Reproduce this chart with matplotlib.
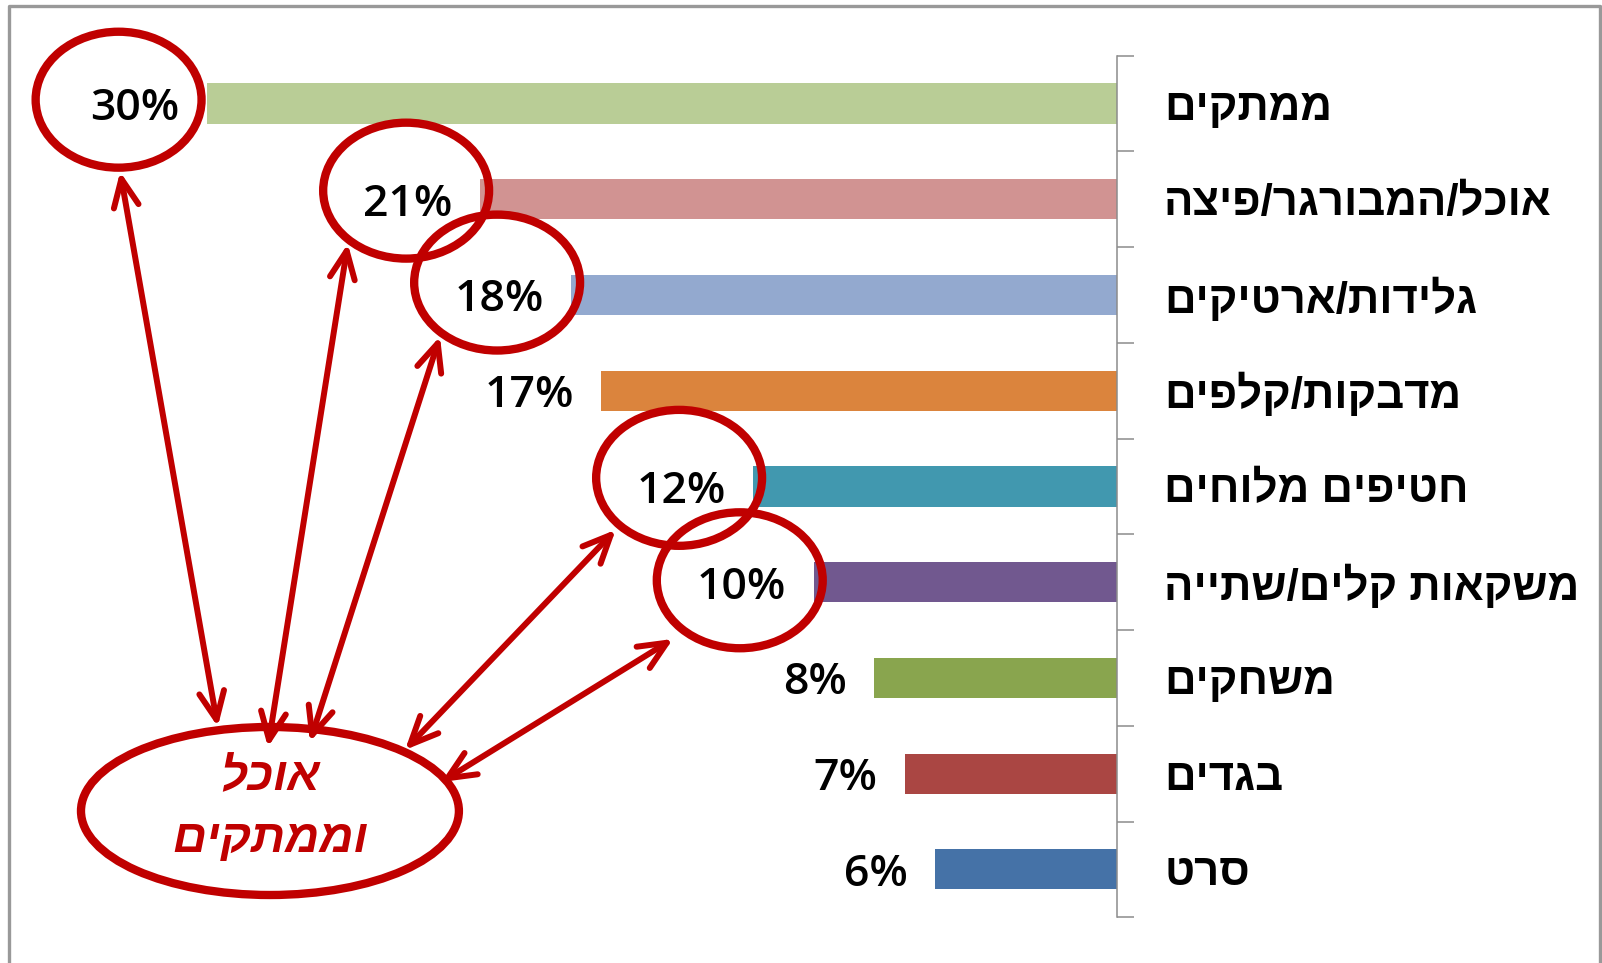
import numpy as np
import matplotlib.pyplot as plt
from matplotlib.patches import Ellipse, FancyArrowPatch
from matplotlib.lines import Line2D

# Data
categories = ['ממתקים', 'אוכל/המבורגר/פיצה', 'גלידות/ארטיקים', 'מדבקות/קלפים',
              'חטיפים מלוחים', 'משקאות קלים/שתייה', 'משחקים', 'בגדים', 'סרט']
shares = [30, 21, 18, 17, 12, 10, 8, 7, 6]
bar_colors = ['#B9CD96', '#D19392', '#93A9CF', '#DB843D', '#4198AF',
              '#71588F', '#89A54E', '#AA4643', '#4572A7']

callout_text = 'אוכל\nוממתקים'
circled = [0, 1, 2, 4, 5]   # rows whose value label is circled

RED = '#C00000'
HEB = ['Liberation Sans', 'DejaVu Sans']
NUM = ['Open Sans', 'DejaVu Sans']


def rtl(s):
    # matplotlib has no bidi support, so flip each line for right-to-left display
    return '\n'.join(line[::-1] for line in s.split('\n'))


def ell_pt(cx, cy, w, h, deg, k=1.0):
    t = np.deg2rad(deg)
    return cx + k * w / 2 * np.cos(t), cy + k * h / 2 * np.sin(t)


fig = plt.figure(figsize=(16.02, 9.63), dpi=100)
ax = fig.add_axes([0.0125, 0.0475, 0.6848, 0.8947])

y = np.arange(len(categories))
ax.barh(y, shares, height=0.42, color=bar_colors, zorder=2)

ax.set_xlim(36.17, 0)
ax.set_ylim(len(categories) - 0.5, -0.5)

# axis on the right, tick marks between categories
ax.yaxis.tick_right()
ax.set_yticks(np.arange(-0.5, len(categories)), labels=[])
ax.set_yticks(y, minor=True)
ax.set_yticklabels([rtl(c) for c in categories], minor=True,
                   fontsize=31.5, fontweight='bold', family=HEB)
ax.tick_params(axis='y', which='major', direction='out', length=12,
               width=1.1, color='#8C8C8C')
ax.tick_params(axis='y', which='minor', length=0, pad=34)
ax.set_xticks([])
for s in ['top', 'left', 'bottom']:
    ax.spines[s].set_visible(False)
ax.spines['right'].set_color('#8C8C8C')
ax.spines['right'].set_linewidth(1.1)
ax.patch.set_alpha(0)

# value labels
for i, v in enumerate(shares):
    ax.text(v + 0.9, i, f'{v}%', ha='right', va='center_baseline',
            fontsize=32, fontweight='semibold', family=NUM, color='black',
            zorder=4)

# hand-drawn callouts
circ_w, circ_h = 5.47, 1.42
nudges = [(0.48, -0.04), (0, -0.09), (0, -0.13), (0, -0.09), (0, -0.02)]
centers = []
for i, (nx, ny) in zip(circled, nudges):
    c = (shares[i] + 2.44 + nx, i + ny)
    centers.append(c)
    ax.add_patch(Ellipse(c, circ_w, circ_h, fill=False, ec=RED, lw=6,
                         clip_on=False, zorder=5))

big_c, big_w, big_h = (27.93, 7.39), 12.46, 1.755
ax.add_patch(Ellipse(big_c, big_w, big_h, fill=False, ec=RED, lw=6,
                     clip_on=False, zorder=5))
ax.text(big_c[0], big_c[1] - 0.02, rtl(callout_text), ha='center', va='center',
        color=RED, fontsize=34, fontstyle='italic', fontweight='bold',
        family=HEB, linespacing=1.55, zorder=6)

tail_ang = [91, 48, 49, 45, 47]
tail_k = [1.06, 1.05, 1.05, 1.08, 1.18]
head_ang = [285.4, 270.8, 255.6, 225.5, 200.8]
head_k = [1.04, 0.76, 0.85, 1.02, 0.97]
for c, ta, tk, ha_, hk in zip(centers, tail_ang, tail_k, head_ang, head_k):
    p0 = ell_pt(c[0], c[1], circ_w, circ_h, ta, tk)
    p1 = ell_pt(big_c[0], big_c[1], big_w, big_h, ha_, hk)
    ax.add_patch(FancyArrowPatch(p0, p1, arrowstyle='<->,head_length=1.0,head_width=0.45',
                                 mutation_scale=20, lw=4.3, color=RED,
                                 shrinkA=0, shrinkB=0, clip_on=False, zorder=5,
                                 joinstyle='round', capstyle='round'))

# picture frame
fig.add_artist(Line2D([9 / 1602, 9 / 1602, 1600 / 1602, 1600 / 1602],
                      [-0.01, 1 - 5.7 / 963, 1 - 5.7 / 963, -0.01],
                      transform=fig.transFigure, color='#999999', lw=2.4))

plt.savefig('out.png', dpi=100, facecolor='white')
plt.close()
